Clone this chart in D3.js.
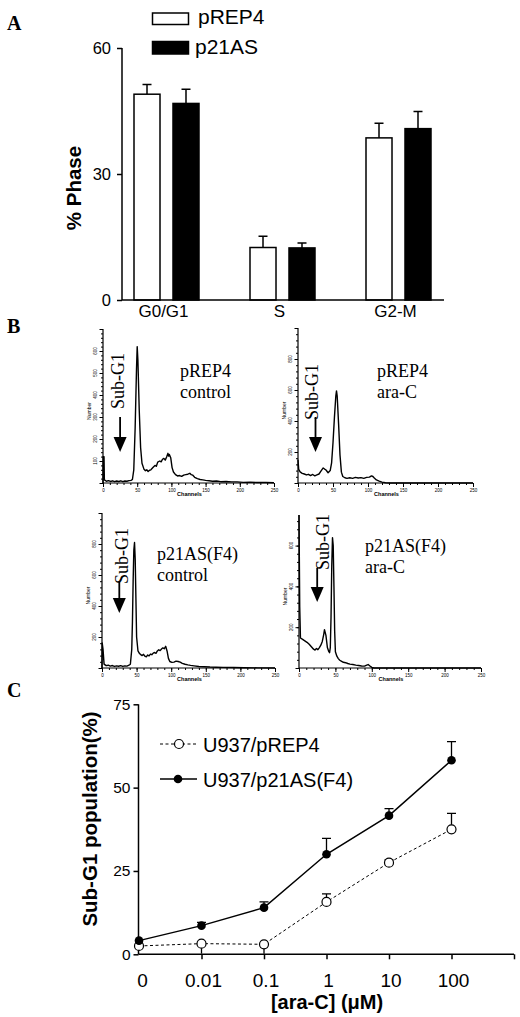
<!DOCTYPE html>
<html>
<head>
<meta charset="utf-8">
<script src="https://cdn.jsdelivr.net/npm/d3@7"></script>
<style>
  body { margin: 0; background: #fff; }
  svg { display: block; }
  text { fill: #000; }
</style>
</head>
<body>
<script>
// ---- panel A : cell cycle phases
var phaseCats = ["G0/G1", "S", "G2-M"];
var phaseSeries = ["pREP4", "p21AS"];
var pREP4Phase = [49.0, 12.5, 38.6];
var pREP4PhaseErr = [2.3, 2.7, 3.5];
var p21ASPhase = [46.8, 12.4, 40.8];
var p21ASPhaseErr = [3.4, 1.2, 4.1];
var phaseTicks = [0, 30, 60];

// ---- panel B : DNA histograms, [channel, count]
var histREP4Control = [[0,0],[0.3,120],[1.5,120],[2,14],[5,8],[8,11],[11,7],[14,10],[17,6],[20,9],[23,7],[26,10],[29,6],[32,9],[35,8],[38,11],[41,12],[43,16],[45,60],[47,250],[49,520],[50,620],[51,560],[53,330],[55,160],[57,90],[60,62],[62,56],[64,60],[66,52],[68,58],[70,60],[73,70],[76,80],[78,76],[80,95],[83,100],[85,96],[87,108],[89,112],[91,104],[93,118],[95,135],[96,122],[97,130],[99,115],[101,70],[103,50],[106,38],[109,32],[112,34],[115,30],[118,36],[121,38],[124,40],[127,44],[129,38],[131,36],[134,26],[138,20],[142,16],[146,14],[150,12],[155,10],[160,8],[166,9],[172,6],[180,7],[188,5],[196,5],[205,3],[215,4],[225,2],[238,2],[250,1]];
var histREP4AraC = [[0,150],[1,88],[3,72],[6,62],[9,58],[12,52],[15,56],[18,48],[21,55],[24,46],[27,52],[30,58],[33,78],[36,97],[38,90],[40,84],[43,66],[46,80],[48,130],[50,260],[52,420],[54,560],[55,594],[56,560],[58,380],[60,180],[62,70],[64,42],[67,34],[70,30],[74,34],[78,30],[82,36],[86,32],[90,35],[94,30],[98,36],[102,38],[105,46],[107,42],[109,32],[112,20],[116,12],[120,6],[125,2],[130,0],[250,0]];
var histP21Control = [[0,0],[0.3,161],[1.5,120],[3,25],[6,15],[9,18],[12,12],[15,16],[18,10],[21,14],[24,11],[27,15],[30,10],[33,14],[36,12],[39,18],[41,24],[43,120],[44,300],[45,560],[46,760],[47,810],[48,700],[49,450],[50,200],[52,110],[54,95],[56,86],[58,80],[60,88],[62,76],[64,72],[66,84],[68,78],[70,90],[72,86],[74,96],[76,100],[78,95],[80,110],[82,118],[84,112],[86,122],[88,130],[90,124],[92,140],[94,110],[96,62],[98,42],[101,36],[104,38],[107,44],[110,42],[113,38],[116,30],[120,24],[124,20],[128,17],[133,14],[140,10],[148,8],[156,6],[165,5],[175,4],[190,3],[205,2],[225,1],[250,0]];
var histP21AraC = [[0,750],[1,300],[2,147],[5,140],[8,133],[11,126],[14,116],[17,104],[20,92],[22,88],[24,96],[26,90],[28,100],[30,112],[32,130],[34,165],[35,188],[37,160],[39,100],[41,80],[42,75],[43,100],[44,250],[45,500],[46,639],[47,600],[48,400],[49,180],[50,80],[52,58],[54,46],[56,38],[58,34],[61,28],[64,26],[67,22],[70,19],[74,17],[78,14],[82,12],[86,10],[90,9],[93,14],[95,17],[97,11],[100,3],[103,0],[250,0]];

// ---- panel C : sub-G1 population vs ara-C dose
var doseLabels = ["0", "0.01", "0.1", "1", "10", "100"];
var subG1REP4 = [2.5, 3.2, 3.0, 15.7, 27.5, 37.5];
var subG1REP4ErrUp = [0, 0, 0, 2.4, 0.8, 4.8];
var subG1REP4ErrDown = [0, 3.0, 2.8, 0, 0, 0];
var subG1P21 = [4.1, 8.6, 14.0, 30.0, 41.6, 58.2];
var subG1P21Err = [0, 1.0, 1.7, 4.8, 2.1, 5.6];
var subG1Ticks = [0, 25, 50, 75];
var subG1Names = ["U937/pREP4", "U937/p21AS(F4)"];

var sans = "'Liberation Sans', Arial, sans-serif";
var serif = "'Liberation Serif', 'Times New Roman', serif";

var svg = d3.select("body").append("svg")
    .attr("width", 520)
    .attr("height", 1017);

function panelLetter(txt, x, y) {
  svg.append("text").attr("x", x).attr("y", y)
    .attr("font-family", serif).attr("font-weight", "bold")
    .attr("font-size", 20).text(txt);
}

// ================= A =================
panelLetter("A", 7, 30);

var xA0 = d3.scalePoint().domain(phaseCats).range([166.5, 398.5]);
var xA1 = d3.scaleBand().domain(phaseSeries).range([-32.5, 32.5]).paddingInner(0.333);
var yA = d3.scaleLinear().domain([0, 60]).range([300, 48]);

var gA = svg.append("g");
var phaseRows = [];
phaseCats.forEach(function(c, i) {
  phaseRows.push({cat: c, s: "pREP4", v: pREP4Phase[i], e: pREP4PhaseErr[i]});
  phaseRows.push({cat: c, s: "p21AS", v: p21ASPhase[i], e: p21ASPhaseErr[i]});
});

// error bars first, bars over them
gA.selectAll(".ebar").data(phaseRows).enter().append("path")
  .attr("d", function(d) {
    var cx = xA0(d.cat) + xA1(d.s) + xA1.bandwidth() / 2;
    var y1 = yA(d.v), y2 = yA(d.v + d.e);
    return "M" + cx + "," + y1 + "V" + y2 + "M" + (cx - 4.5) + "," + y2 + "H" + (cx + 4.5);
  })
  .attr("stroke", "#000").attr("stroke-width", 1.5).attr("fill", "none");

gA.selectAll(".bar").data(phaseRows).enter().append("rect")
  .attr("x", function(d) { return xA0(d.cat) + xA1(d.s); })
  .attr("y", function(d) { return yA(d.v); })
  .attr("width", xA1.bandwidth())
  .attr("height", function(d) { return yA(0) - yA(d.v); })
  .attr("fill", function(d) { return d.s == "pREP4" ? "#fff" : "#000"; })
  .attr("stroke", "#000").attr("stroke-width", 1.5);

var yAxisA = d3.axisLeft(yA).tickValues(phaseTicks).tickSize(5).tickPadding(6);
gA.append("g").attr("transform", "translate(122,0)").call(yAxisA)
  .call(function(g) {
    g.select(".domain").attr("stroke-width", 1.5).attr("d", "M0,48V300");
    g.selectAll(".tick line").attr("stroke-width", 1.5);
    g.selectAll(".tick text").attr("font-family", sans).attr("font-size", 16.5).attr("fill", "#000");
  });
gA.append("line").attr("x1", 122).attr("x2", 444).attr("y1", 300).attr("y2", 300)
  .attr("stroke", "#000").attr("stroke-width", 1.5);
gA.selectAll(".cat").data(phaseCats).enter().append("text")
  .attr("x", function(d) { return xA0(d) - 3; })
  .attr("y", 317).attr("text-anchor", "middle")
  .attr("font-family", sans).attr("font-size", 17).text(function(d) { return d; });
gA.append("text").attr("transform", "translate(81,188) rotate(-90)")
  .attr("text-anchor", "middle").attr("font-family", sans).attr("font-weight", "bold")
  .attr("font-size", 20.5).text("% Phase");

// legend A
phaseSeries.forEach(function(s, i) {
  gA.append("rect").attr("x", 152.5).attr("y", i == 0 ? 13 : 41.5)
    .attr("width", 36).attr("height", i == 0 ? 11.5 : 12.5)
    .attr("fill", i == 0 ? "#fff" : "#000").attr("stroke", "#000").attr("stroke-width", 1.5);
  gA.append("text").attr("x", i == 0 ? 198 : 195).attr("y", i == 0 ? 23.5 : 54)
    .attr("font-family", sans).attr("font-size", 21).text(s);
});

// ================= B =================
panelLetter("B", 7, 333);

var histPanels = [
  {data: histREP4Control, x: [103, 274], y: [483, 329], ymax: 700, ytick: 100, ylab: [100,200,300,400,500,600],
   cap: ["pREP4", "control"], capX: 180, capY: 377, subX: 118, subY: 381, arrTop: 417, arrTip: 452},
  {data: histREP4AraC, x: [298, 473], y: [483, 328], ymax: 1000, ytick: 200, ylab: [200,400,600,800],
   cap: ["pREP4", "ara-C"], capX: 377, capY: 377, subX: 312, subY: 392, arrTop: 417, arrTip: 452},
  {data: histP21Control, x: [102, 275], y: [668, 513], ymax: 1000, ytick: 200, ylab: [200,400,600,800],
   cap: ["p21AS(F4)", "control"], capX: 157, capY: 560, subX: 122, subY: 556, arrTop: 582, arrTip: 613},
  {data: histP21AraC, x: [299, 481], y: [668, 515], ymax: 750, ytick: 200, ylab: [200,400,600],
   cap: ["p21AS(F4)", "ara-C"], capX: 365, capY: 552, subX: 323, subY: 542, arrTop: 568, arrTip: 602}
];

histPanels.forEach(function(p) {
  var g = svg.append("g");
  var x = d3.scaleLinear().domain([0, 250]).range(p.x);
  var y = d3.scaleLinear().domain([0, p.ymax]).range(p.y).clamp(true);

  // x axis: minor + major ticks hanging below
  var xMinor = d3.axisBottom(x).tickValues(d3.range(0, 251, 10)).tickSize(2).tickFormat("");
  var xMajor = d3.axisBottom(x).tickValues(d3.range(0, 251, 50)).tickSize(4).tickPadding(1.5);
  g.append("g").attr("transform", "translate(0," + p.y[0] + ")").call(xMinor)
    .call(function(a) { a.select(".domain").remove(); });
  g.append("g").attr("transform", "translate(0," + p.y[0] + ")").call(xMajor)
    .call(function(a) {
      a.select(".domain").attr("d", "M" + p.x[0] + ",0H" + p.x[1]);
      a.selectAll(".tick text").attr("font-family", sans).attr("font-size", 4.5).attr("fill", "#222");
    });

  var yMinor = d3.axisLeft(y).tickValues(d3.range(0, p.ymax + 1, p.ytick / 5)).tickSize(2).tickFormat("");
  var yMajor = d3.axisLeft(y).tickValues(d3.range(0, p.ymax + 1, p.ytick)).tickSize(3.5).tickFormat("");
  g.append("g").attr("transform", "translate(" + p.x[0] + ",0)").call(yMinor)
    .call(function(a) { a.select(".domain").remove(); });
  g.append("g").attr("transform", "translate(" + p.x[0] + ",0)").call(yMajor)
    .call(function(a) { a.select(".domain").attr("d", "M0," + p.y[0] + "V" + p.y[1]).attr("stroke-width", 1.2); });
  g.selectAll(".ylab").data(p.ylab).enter().append("text")
    .attr("transform", function(d) { return "translate(" + (p.x[0] - 6) + "," + y(d) + ") rotate(-90)"; })
    .attr("text-anchor", "middle").attr("font-family", sans).attr("font-size", 4.5).attr("fill", "#222")
    .text(function(d) { return d; });

  g.append("text").attr("transform", "translate(" + (p.x[0] - 12) + "," + ((p.y[0] + p.y[1]) / 2 + 5) + ") rotate(-90)")
    .attr("text-anchor", "middle").attr("font-family", sans).attr("font-size", 5).text("Number");
  g.append("text").attr("x", (p.x[0] + p.x[1]) / 2 + 1).attr("y", p.y[0] + 13)
    .attr("text-anchor", "middle").attr("font-family", sans).attr("font-size", 5.5).attr("font-weight", "bold")
    .text("Channels");

  var line = d3.line().x(function(d) { return x(d[0]); }).y(function(d) { return y(d[1]); });
  g.append("path").datum(p.data).attr("d", line)
    .attr("fill", "none").attr("stroke", "#000").attr("stroke-width", 1.4)
    .attr("stroke-linejoin", "round");

  // captions
  p.cap.forEach(function(t, i) {
    g.append("text").attr("x", p.capX).attr("y", p.capY + i * 20.5)
      .attr("font-family", serif).attr("font-size", 18).text(t);
  });
  g.append("text").attr("transform", "translate(" + p.subX + "," + p.subY + ") rotate(-90)")
    .attr("text-anchor", "middle").attr("dominant-baseline", "central")
    .attr("font-family", serif).attr("font-size", 18).text("Sub-G1");

  // arrow at channel 25
  var ax = x(25);
  g.append("line").attr("x1", ax).attr("x2", ax).attr("y1", p.arrTop).attr("y2", p.arrTip - 14)
    .attr("stroke", "#000").attr("stroke-width", 1.8);
  g.append("path")
    .attr("d", "M" + (ax - 6.5) + "," + (p.arrTip - 15) + "L" + (ax + 6.5) + "," + (p.arrTip - 15) + "L" + ax + "," + p.arrTip + "Z")
    .attr("fill", "#000");
});

// ================= C =================
panelLetter("C", 7, 697);

var xC = d3.scalePoint().domain(doseLabels.concat([""])).range([139, 514]);
var yC = d3.scaleLinear().domain([0, 75]).range([954.3, 704.3]);
var gC = svg.append("g");

var yAxisC = d3.axisLeft(yC).tickValues(subG1Ticks).tickSize(5).tickPadding(3);
gC.append("g").attr("transform", "translate(138.5,0)").call(yAxisC)
  .call(function(g) {
    g.select(".domain").attr("stroke-width", 1.5).attr("d", "M0,704.3V954.3");
    g.selectAll(".tick line").attr("stroke-width", 1.5);
    g.selectAll(".tick text").attr("font-family", sans).attr("font-size", 15.5).attr("fill", "#000");
  });
var xAxisC = d3.axisBottom(xC).tickValues(doseLabels.slice(1).concat([""])).tickSize(5).tickFormat("");
gC.append("g").attr("transform", "translate(0,954.3)").call(xAxisC)
  .call(function(g) {
    g.select(".domain").attr("stroke-width", 1.5).attr("d", "M138.5,0H514");
    g.selectAll(".tick line").attr("stroke-width", 1.5);
  });
gC.selectAll(".xl").data(doseLabels).enter().append("text")
  .attr("x", function(d, i) { return xC(d) + (i == 0 ? 3.5 : 2); })
  .attr("y", 987).attr("text-anchor", "middle")
  .attr("font-family", sans).attr("font-size", 19).text(function(d) { return d; });
gC.append("text").attr("x", 327).attr("y", 1009).attr("text-anchor", "middle")
  .attr("font-family", sans).attr("font-weight", "bold").attr("font-size", 20)
  .text("[ara-C] (\u03bcM)");
gC.append("text").attr("transform", "translate(97,819) rotate(-90)")
  .attr("text-anchor", "middle").attr("font-family", sans).attr("font-weight", "bold")
  .attr("font-size", 20.5).text("Sub-G1 population(%)");

function errPath(cx, y1, y2) {
  return "M" + cx + "," + y1 + "V" + y2 + "M" + (cx - 4.5) + "," + y2 + "H" + (cx + 4.5);
}

var lineC = d3.line().x(function(d, i) { return xC(doseLabels[i]); }).y(function(d) { return yC(d); });

// error bars (pREP4 dashed series has some downward-only bars)
doseLabels.forEach(function(d, i) {
  if (subG1REP4ErrUp[i] > 0)
    gC.append("path").attr("d", errPath(xC(d), yC(subG1REP4[i]), yC(subG1REP4[i] + subG1REP4ErrUp[i])))
      .attr("stroke", "#000").attr("stroke-width", 1.3).attr("fill", "none");
  if (subG1REP4ErrDown[i] > 0)
    gC.append("line").attr("x1", xC(d)).attr("x2", xC(d))
      .attr("y1", yC(subG1REP4[i])).attr("y2", yC(subG1REP4[i] - subG1REP4ErrDown[i]))
      .attr("stroke", "#000").attr("stroke-width", 1.3);
  if (subG1P21Err[i] > 0)
    gC.append("path").attr("d", errPath(xC(d), yC(subG1P21[i]), yC(subG1P21[i] + subG1P21Err[i])))
      .attr("stroke", "#000").attr("stroke-width", 1.3).attr("fill", "none");
});
gC.append("path").datum(subG1REP4).attr("d", lineC)
  .attr("fill", "none").attr("stroke", "#000").attr("stroke-width", 1).attr("stroke-dasharray", "3,2.5");
gC.append("path").datum(subG1P21).attr("d", lineC)
  .attr("fill", "none").attr("stroke", "#000").attr("stroke-width", 1.5);
gC.selectAll(".po").data(subG1REP4).enter().append("circle")
  .attr("cx", function(d, i) { return xC(doseLabels[i]); })
  .attr("cy", function(d) { return yC(d); })
  .attr("r", 4.5).attr("fill", "#fff").attr("stroke", "#000").attr("stroke-width", 1.2);
gC.selectAll(".pf").data(subG1P21).enter().append("circle")
  .attr("cx", function(d, i) { return xC(doseLabels[i]); })
  .attr("cy", function(d) { return yC(d); })
  .attr("r", 4.3).attr("fill", "#000");

// legend C
gC.append("line").attr("x1", 160).attr("x2", 197).attr("y1", 744).attr("y2", 744)
  .attr("stroke", "#000").attr("stroke-width", 1).attr("stroke-dasharray", "3,2.5");
gC.append("circle").attr("cx", 179).attr("cy", 744).attr("r", 4.5)
  .attr("fill", "#fff").attr("stroke", "#000").attr("stroke-width", 1.2);
gC.append("line").attr("x1", 160).attr("x2", 197).attr("y1", 779).attr("y2", 779)
  .attr("stroke", "#000").attr("stroke-width", 1.5);
gC.append("circle").attr("cx", 178).attr("cy", 779).attr("r", 4.3).attr("fill", "#000");
subG1Names.forEach(function(n, i) {
  gC.append("text").attr("x", 203).attr("y", i == 0 ? 751.5 : 787)
    .attr("font-family", sans).attr("font-size", 20).text(n);
});
</script>
</body>
</html>
